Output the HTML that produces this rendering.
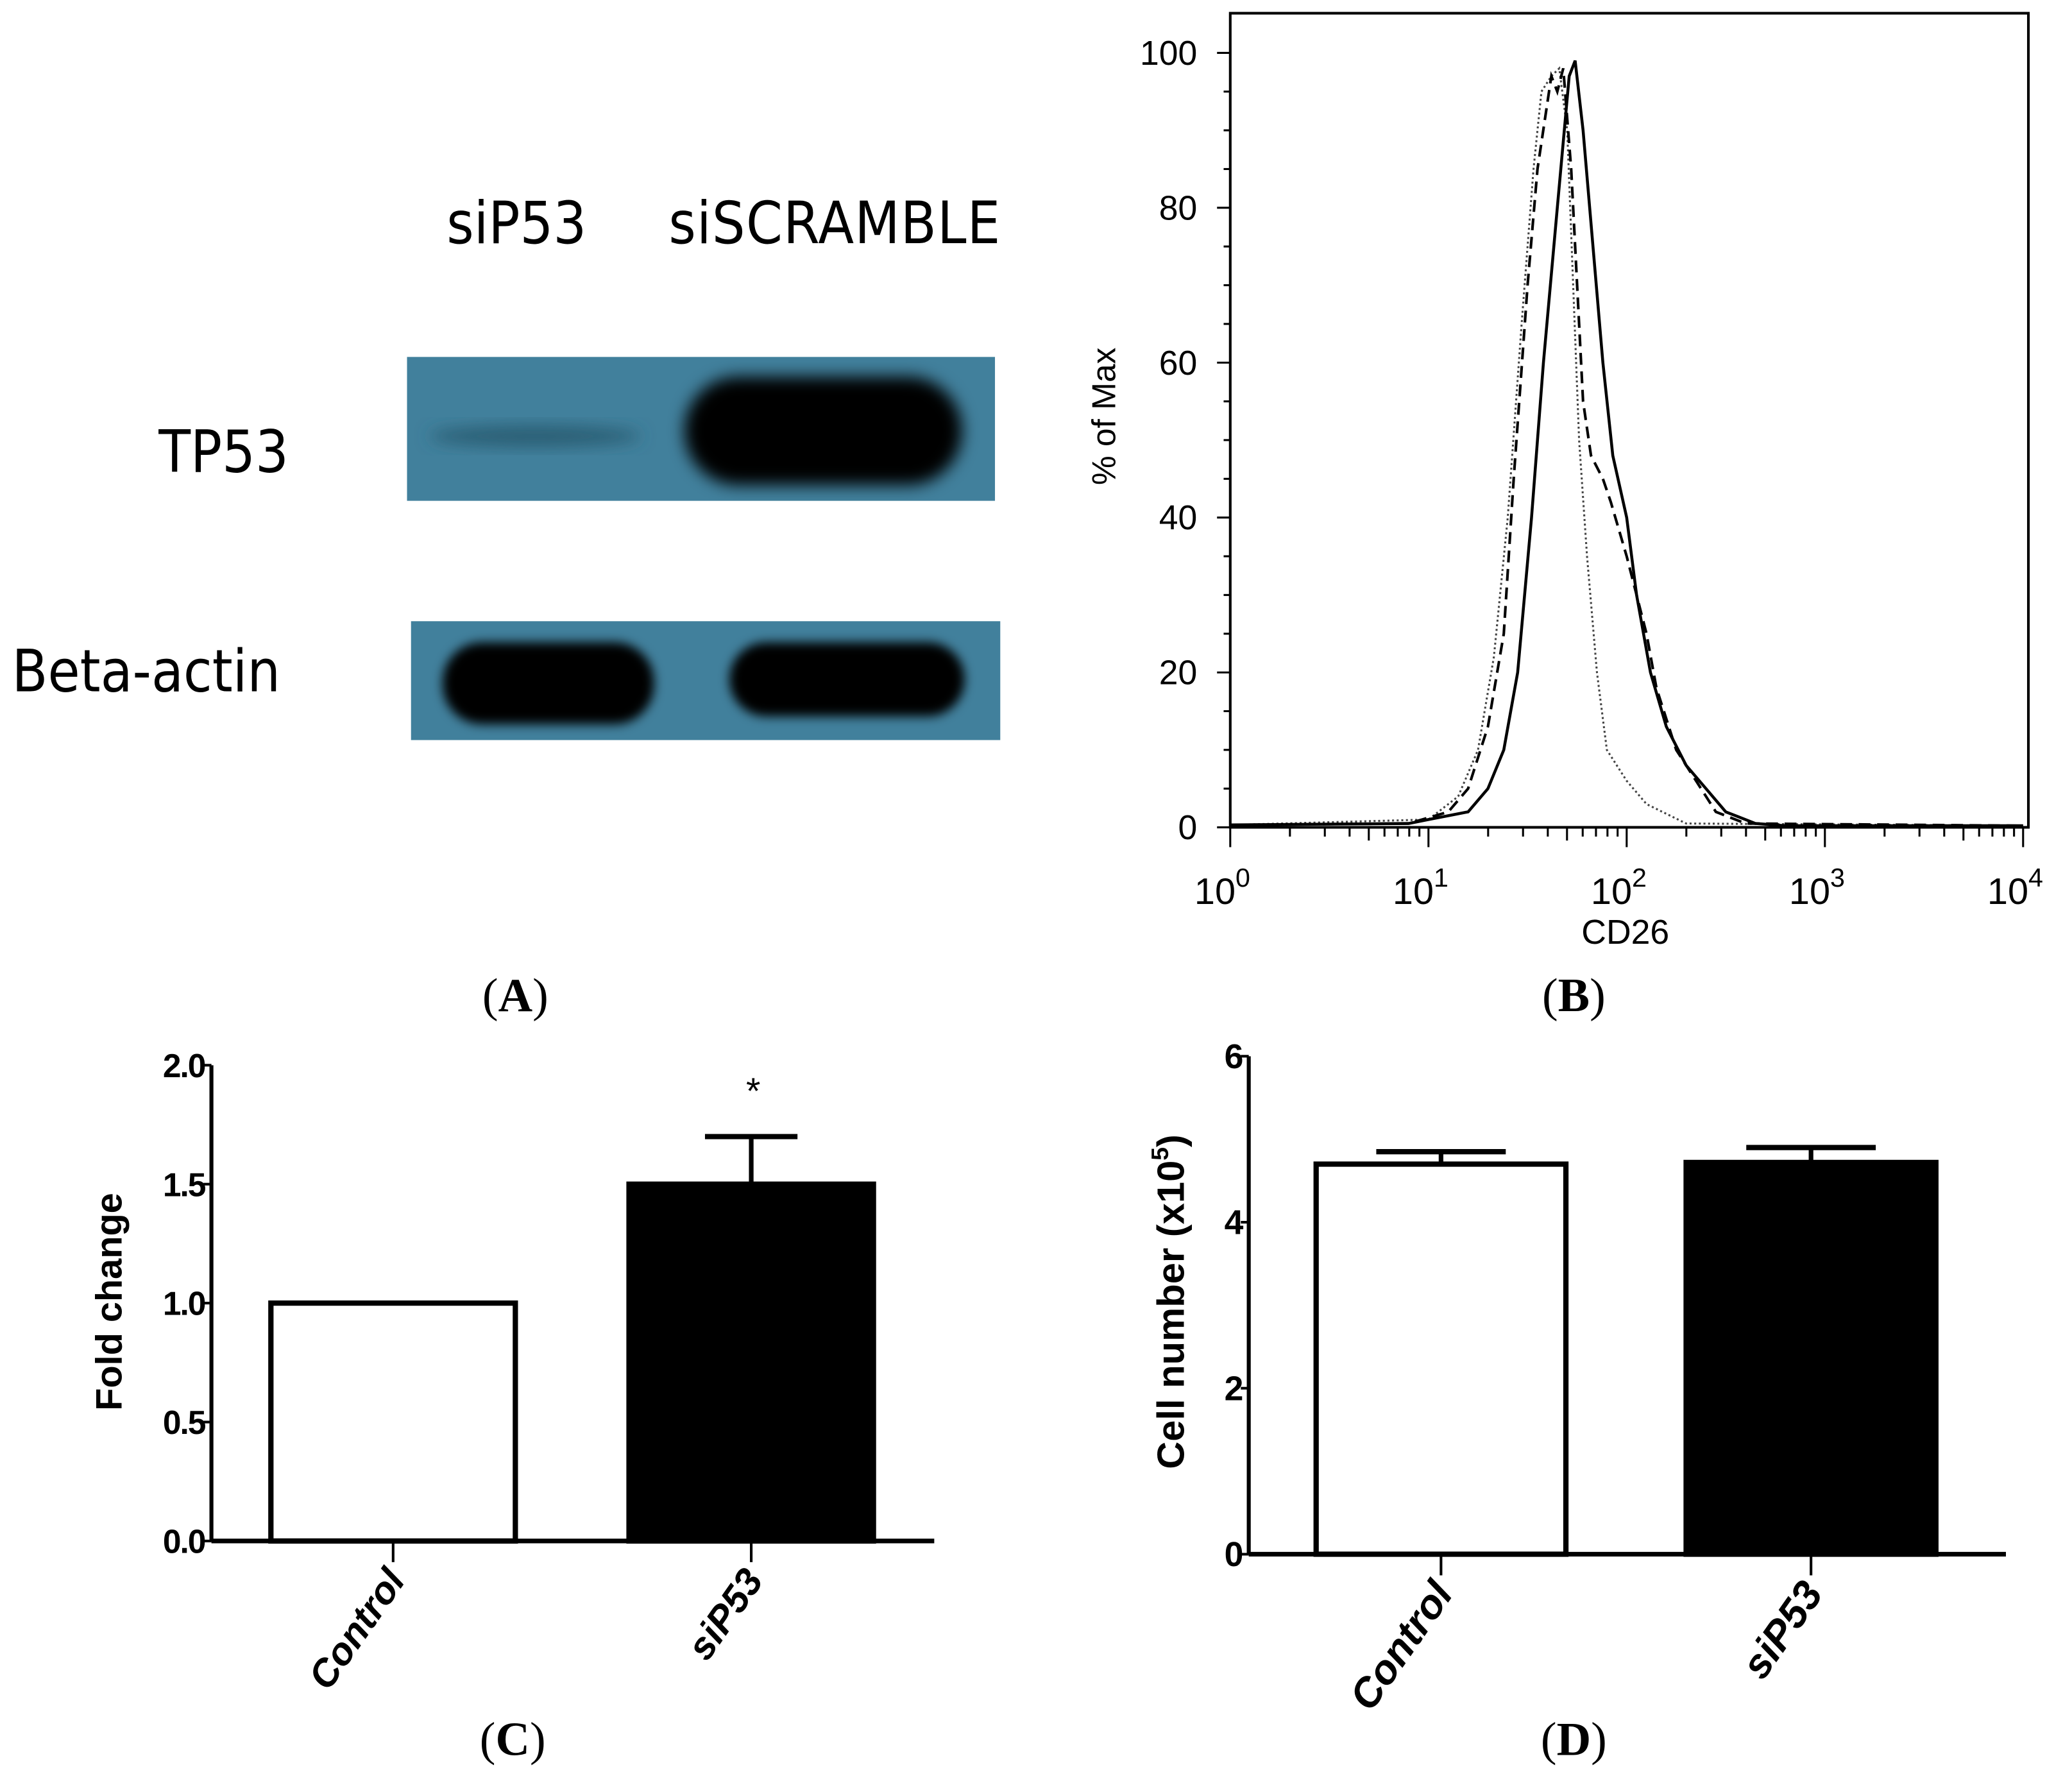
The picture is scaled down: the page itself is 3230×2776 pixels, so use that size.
<!DOCTYPE html>
<html><head><meta charset="utf-8"><style>
html,body{margin:0;padding:0;background:#fff;}
svg{display:block;}
</style></head><body>
<svg id="fig" width="3230" height="2776" viewBox="0 0 1568 1347.6" xmlns="http://www.w3.org/2000/svg">
<defs>
<filter id="blur" x="-20%" y="-40%" width="140%" height="180%"><feGaussianBlur stdDeviation="6"/></filter>
<filter id="blur2" x="-20%" y="-40%" width="140%" height="180%"><feGaussianBlur stdDeviation="4"/></filter>
<clipPath id="c1"><rect x="308" y="270" width="445" height="109"/></clipPath>
<clipPath id="c2"><rect x="311" y="470" width="446" height="90"/></clipPath>
</defs>
<rect width="1568" height="1348" fill="#fff"/>

<!-- Panel A -->
<g font-family="'DejaVu Sans Condensed','Liberation Sans Narrow','Liberation Sans',sans-serif" font-size="44" fill="#000">
<text x="338" y="184">siP53</text>
<text x="506" y="184" letter-spacing="0.6">siSCRAMBLE</text>
<text x="120" y="357">TP53</text>
<text x="9" y="523">Beta-actin</text>
<g clip-path="url(#c1)">
<rect x="308" y="270" width="445" height="109" fill="#41809c"/>
<ellipse cx="405" cy="330" rx="80" ry="8" fill="#2c5f74" filter="url(#blur)"/>
<rect x="518" y="285" width="210" height="82" rx="41" fill="#000" filter="url(#blur)"/>
</g>
<g clip-path="url(#c2)">
<rect x="311" y="470" width="446" height="90" fill="#41809c"/>
<rect x="335" y="486" width="160" height="62" rx="30" fill="#000" filter="url(#blur2)"/>
<rect x="552" y="486" width="178" height="56" rx="28" fill="#000" filter="url(#blur2)"/>
</g>
</g>
<text x="390" y="765" text-anchor="middle" font-family="'Liberation Serif',serif" font-size="36">(<tspan font-weight="bold">A</tspan>)</text>
<text x="1191" y="765" text-anchor="middle" font-family="'Liberation Serif',serif" font-size="36">(<tspan font-weight="bold">B</tspan>)</text>
<text x="388" y="1328" text-anchor="middle" font-family="'Liberation Serif',serif" font-size="36">(<tspan font-weight="bold">C</tspan>)</text>
<text x="1191" y="1328" text-anchor="middle" font-family="'Liberation Serif',serif" font-size="36">(<tspan font-weight="bold">D</tspan>)</text>

<g id="pb"></g>
<g id="pc"></g>
<g id="pd"></g>
</svg>
<script>
const NS='http://www.w3.org/2000/svg';
function mk(p,tag,a,txt){const e=document.createElementNS(NS,tag);for(const k in a)e.setAttribute(k,a[k]);if(txt!==undefined)e.textContent=txt;p.appendChild(e);return e;}

// ---- Panel B data (log10 CD26, % of max) ----
const solidLogX=[0,0.9,1.0,1.2,1.3,1.38,1.45,1.52,1.58,1.65,1.71,1.74,1.78,1.83,1.88,1.93,2.0,2.05,2.12,2.2,2.3,2.4,2.5,2.65,2.8,4];
const solidY=[0.3,0.5,1,2,5,10,20,40,60,80,97,99,90,75,60,48,40,30,20,13,8,5,2,0.5,0.2,0.2];
const dashLogX=[0,0.9,1.1,1.2,1.3,1.38,1.43,1.5,1.55,1.62,1.65,1.68,1.72,1.75,1.78,1.82,1.88,1.92,2.0,2.1,2.15,2.25,2.35,2.45,2.6,4];
const dashY=[0.3,0.5,2,5,13,25,45,70,85,97,95,98,85,70,55,48,45,42,35,25,18,10,6,2,0.5,0.2];
const dotLogX=[0,1.0,1.15,1.25,1.33,1.4,1.47,1.53,1.57,1.62,1.66,1.7,1.73,1.76,1.8,1.85,1.9,2.0,2.1,2.3,4];
const dotY=[0.3,1,4,10,22,40,65,85,95,97,98,90,70,50,35,20,10,6,3,0.5,0.2];
const bYTicks=[0,20,40,60,80,100];
const bXDecades=[0,1,2,3,4];

const pb=document.getElementById('pb');
const bx=v=>931+v*150, by=v=>626-v*5.86;
let fr=mk(pb,'rect',{x:931,y:10,width:604,height:616,fill:'none',stroke:'#000','stroke-width':2});


for(let v=0;v<=100;v+=5){let t=mk(pb,'line',{x1:931,x2:v%20===0?921:926,y1:by(v),y2:by(v),stroke:'#000','stroke-width':1.5});

}
bYTicks.forEach(v=>{let t=mk(pb,'text',{x:906,y:by(v)+9,'text-anchor':'end','font-family':'Liberation Sans,sans-serif','font-size':26},String(v));

});
for(let d=0;d<4;d++){for(let k=1;k<10;k++){const x=bx(d+Math.log10(k));let t=mk(pb,'line',{x1:x,x2:x,y1:626,y2:k===1?641:(k===5?636:633),stroke:'#000','stroke-width':1.5});

}}
let lt=mk(pb,'line',{x1:bx(4),x2:bx(4),y1:626,y2:641,stroke:'#000','stroke-width':1.5});
bXDecades.forEach(d=>{let t=mk(pb,'text',{x:bx(d)-6,y:684,'text-anchor':'middle','font-family':'Liberation Sans,sans-serif','font-size':28},'10');
mk(t,'tspan',{dy:-13,'font-size':20},String(d));

});
let xt=mk(pb,'text',{x:1230,y:714,'text-anchor':'middle','font-family':'Liberation Sans,sans-serif','font-size':26},'CD26');


let yt=mk(pb,'text',{x:0,y:0,transform:'translate(844,315) rotate(-90)','text-anchor':'middle','font-family':'Liberation Sans,sans-serif','font-size':25},'% of Max');


function curve(xs,ys,dash,w,col,name){const d=xs.map((x,i)=>(i?'L':'M')+bx(x).toFixed(1)+' '+by(ys[i]).toFixed(1)).join(' ');
let p=mk(pb,'path',{d:d,fill:'none',stroke:col,'stroke-width':w,'stroke-dasharray':dash});

}
curve(dotLogX,dotY,'1.5 2',1.5,'#444','histogram-dotted');
curve(dashLogX,dashY,'9 5',2,'#000','histogram-dashed');
curve(solidLogX,solidY,'none',2.2,'#000','histogram-solid');

// ---- Panel C data ----
const cCats=['Control','siP53'];
const cVals=[1.0,1.5];
const cErr=[0,0.2];
const cTicks=['0.0','0.5','1.0','1.5','2.0'];
// ---- Panel D data ----
const dCats=['Control','siP53'];
const dVals=[4.7,4.72];
const dErr=[0.15,0.18];
const dTicks=['0','2','4','6'];

function barChart(g,o){
  const y=v=>o.y0-v*o.k;
  let ax=mk(g,'line',{x1:o.ax,x2:o.ax,y1:o.y0,y2:y(o.max),stroke:'#000','stroke-width':3});
  
  
  let xa=mk(g,'line',{x1:o.ax,x2:o.axEnd,y1:o.y0,y2:o.y0,stroke:'#000','stroke-width':3.5});
  
  
  o.ticks.forEach(s=>{const v=parseFloat(s);
    let t=mk(g,'line',{x1:o.ax-6,x2:o.ax,y1:y(v),y2:y(v),stroke:'#000','stroke-width':2});
    
    
    let l=mk(g,'text',{x:o.ax-5,y:y(v)+9,'text-anchor':'end','font-family':'Liberation Sans Narrow,Liberation Sans,sans-serif','font-weight':'bold','font-size':o.tf,'letter-spacing':-1},s);
    
    });
  o.cats.forEach((c,i)=>{
    const x0=o.bx[i],w=o.bw,top=y(o.vals[i]),cx=x0+w/2;
    if(o.err[i]>0){const ey=y(o.vals[i]+o.err[i]);
      let e=mk(g,'line',{x1:cx,x2:cx,y1:top,y2:ey,stroke:'#000','stroke-width':3.5});
      
      
      let cp=mk(g,'line',{x1:cx-o.cap,x2:cx+o.cap,y1:ey,y2:ey,stroke:'#000','stroke-width':4});
      
      }
    let b=mk(g,'rect',{x:x0,y:top,width:w,height:o.y0-top,fill:i?'#000':'#fff',stroke:'#000','stroke-width':4});
    
    
    let tk=mk(g,'line',{x1:cx,x2:cx,y1:o.y0,y2:o.y0+16,stroke:'#000','stroke-width':2});
    
    
    let lb=mk(g,'text',{x:0,y:0,transform:`translate(${cx+10},${o.y0+30}) rotate(-55)`,'text-anchor':'end','font-family':'Liberation Sans,sans-serif','font-weight':'bold','font-style':'italic','font-size':o.lf},c);
    
    
  });
}
const pc=document.getElementById('pc');
barChart(pc,{ax:160,axEnd:707,y0:1166,k:180,max:2,ticks:cTicks,cats:cCats,vals:cVals,err:cErr,bx:[205,476],bw:185,cap:35,lf:29,tf:25});
let ast=mk(pc,'text',{x:570,y:835,'text-anchor':'middle','font-family':'Liberation Sans,sans-serif','font-size':28},'*');


let ct=mk(pc,'text',{x:0,y:0,transform:'translate(92,985) rotate(-90)','text-anchor':'middle','font-family':'Liberation Sans,sans-serif','font-weight':'bold','font-size':28},'Fold change');



const pd=document.getElementById('pd');
barChart(pd,{ax:945,axEnd:1518,y0:1176,k:62.8,max:6,ticks:dTicks,cats:dCats,vals:dVals,err:dErr,bx:[996,1276],bw:189,cap:49,lf:31,tf:26});
let dt=mk(pd,'text',{x:0,y:0,transform:'translate(896,985) rotate(-90)','text-anchor':'middle','font-family':'Liberation Sans,sans-serif','font-weight':'bold','font-size':29},'Cell number (x10');
mk(dt,'tspan',{dy:-12,'font-size':18},'5');
mk(dt,'tspan',{dy:12},')');


</script>
</body></html>
